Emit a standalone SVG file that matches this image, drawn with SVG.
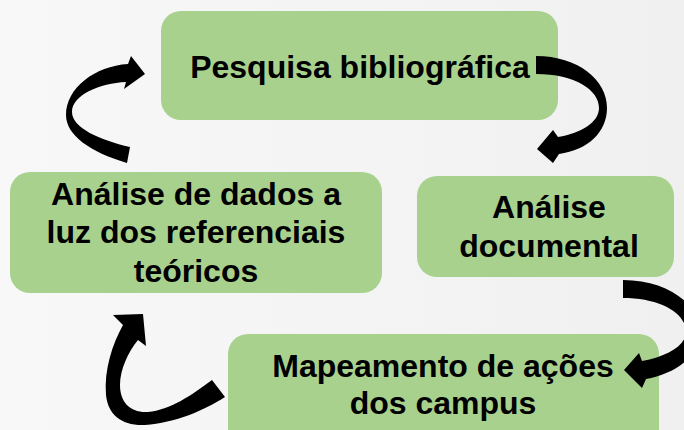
<svg xmlns="http://www.w3.org/2000/svg" width="684" height="430" viewBox="0 0 684 430">
<defs>
<linearGradient id="bg" x1="0" y1="0" x2="1" y2="0">
<stop offset="0" stop-color="#f8f8f8"/>
<stop offset="1" stop-color="#f0f0f0"/>
</linearGradient>
<style>
.box{fill:#a9d18e;}
.t{font-family:"Liberation Sans",Arial,sans-serif;font-weight:bold;font-size:32px;fill:#000;text-anchor:middle;}
.arr{fill:#000;}
</style>
</defs>
<rect width="684" height="430" fill="url(#bg)"/>
<g id="n1">
<rect class="box" x="161" y="11" width="397" height="109" rx="20"/>
<text class="t" x="360" y="78">Pesquisa bibliográfica</text>
</g>
<g id="n2">
<rect class="box" x="10" y="172" width="372" height="121" rx="20"/>
<text class="t" x="196" y="205">Análise de dados a</text>
<text class="t" x="196" y="243">luz dos referenciais</text>
<text class="t" x="196" y="282">teóricos</text>
</g>
<g id="n3">
<rect class="box" x="417" y="176" width="257" height="101" rx="20"/>
<text class="t" x="549" y="218">Análise</text>
<text class="t" x="549" y="257">documental</text>
</g>
<g id="n4">
<rect class="box" x="228" y="334" width="431" height="120" rx="20"/>
<text class="t" x="443" y="377">Mapeamento de ações</text>
<text class="t" x="443" y="414">dos campus</text>
</g>
<g id="connectors">
<path class="arr" d="M536,56 C578,56 607,80 607,108 C607,132 588,150 559,154 L553,163 L537,149 L553,130 L558,137 C582,133 599,122 599,108 C599,90 575,74 536,74 Z"/>
<path class="arr" d="M127,163 C90,152 66,135 66,115 C66,88 95,66 128,64 L131,56 L145,74 L124,89 L126,82 C100,83 72,95 72,112 C72,128 100,140 130,147 Z"/>
<path class="arr" d="M623,280 C668,280 700,305 700,332 C700,356 675,374 646,379 L642,388 L624,370 L639,353 L642,361 C668,356 686,345 686,332 C686,313 660,298 623,298 Z"/>
<path class="arr" d="M123,325 C112,345 104,370 106,395 C108,415 122,426 145,425 C175,423 205,410 225,397 L212,380 C192,395 170,410 148,412 C130,413 120,402 120,385 C120,370 128,352 138,340 L146,346 L143,314 L113,315 Z"/>
</g>
</svg>
